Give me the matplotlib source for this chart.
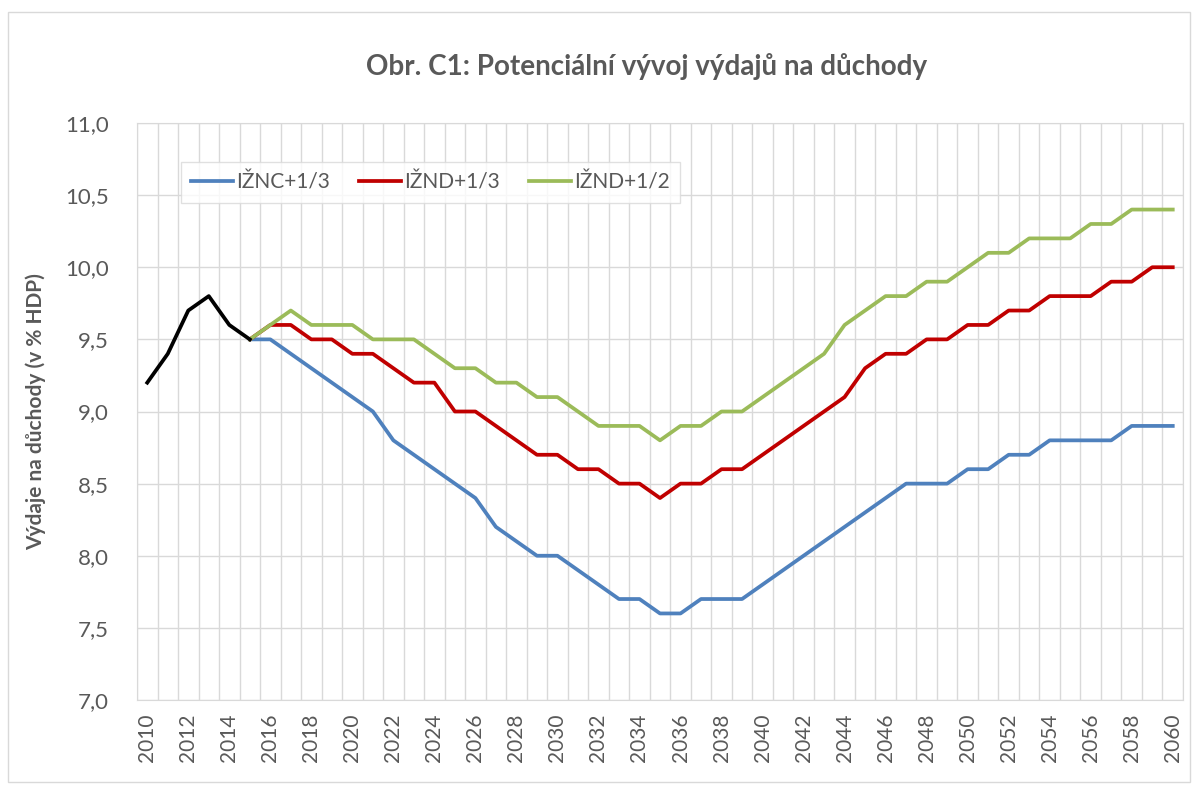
import matplotlib
matplotlib.use('Agg')
import matplotlib.pyplot as plt
from matplotlib.patches import Rectangle
from matplotlib.ticker import FuncFormatter, MultipleLocator

plt.rcParams['font.family'] = ['Lato', 'DejaVu Sans']

years_hist = [2010, 2011, 2012, 2013, 2014, 2015]
hist = [9.2, 9.4, 9.7, 9.8, 9.6, 9.5]

years = list(range(2015, 2061))
iznc_13 = [9.5, 9.5, 9.4, 9.3, 9.2, 9.1, 9.0, 8.8, 8.7, 8.6,
           8.5, 8.4, 8.2, 8.1, 8.0, 8.0, 7.9, 7.8, 7.7, 7.7,
           7.6, 7.6, 7.7, 7.7, 7.7, 7.8, 7.9, 8.0, 8.1, 8.2,
           8.3, 8.4, 8.5, 8.5, 8.5, 8.6, 8.6, 8.7, 8.7, 8.8,
           8.8, 8.8, 8.8, 8.9, 8.9, 8.9]
iznd_13 = [9.5, 9.6, 9.6, 9.5, 9.5, 9.4, 9.4, 9.3, 9.2, 9.2,
           9.0, 9.0, 8.9, 8.8, 8.7, 8.7, 8.6, 8.6, 8.5, 8.5,
           8.4, 8.5, 8.5, 8.6, 8.6, 8.7, 8.8, 8.9, 9.0, 9.1,
           9.3, 9.4, 9.4, 9.5, 9.5, 9.6, 9.6, 9.7, 9.7, 9.8,
           9.8, 9.8, 9.9, 9.9, 10.0, 10.0]
iznd_12 = [9.5, 9.6, 9.7, 9.6, 9.6, 9.6, 9.5, 9.5, 9.5, 9.4,
           9.3, 9.3, 9.2, 9.2, 9.1, 9.1, 9.0, 8.9, 8.9, 8.9,
           8.8, 8.9, 8.9, 9.0, 9.0, 9.1, 9.2, 9.3, 9.4, 9.6,
           9.7, 9.8, 9.8, 9.9, 9.9, 10.0, 10.1, 10.1, 10.2, 10.2,
           10.2, 10.3, 10.3, 10.4, 10.4, 10.4]

gray = '#595959'
grid = '#D9D9D9'

fig = plt.figure(figsize=(11.98, 7.86), dpi=100)
ax = fig.add_axes([137 / 1198, 1 - 700 / 786, (1183 - 137) / 1198, (700 - 123) / 786])

# outer chart border
fig.patches.append(Rectangle((8 / 1198, 4 / 786), 1182 / 1198, 770 / 786,
                             transform=fig.transFigure, fill=False,
                             edgecolor=grid, linewidth=1))

ax.plot(years, iznc_13, color='#4F81BD', lw=2.7, label='IŽNC+1/3', solid_joinstyle='round')
ax.plot(years, iznd_13, color='#C00000', lw=2.7, label='IŽND+1/3', solid_joinstyle='round')
ax.plot(years, iznd_12, color='#9BBB59', lw=2.7, label='IŽND+1/2', solid_joinstyle='round')
ax.plot(years_hist, hist, color='black', lw=2.7, solid_joinstyle='round')

ax.set_xlim(2009.5, 2060.5)
ax.set_ylim(7.0, 11.0)
ax.set_xticks(range(2010, 2061, 2))
ax.set_xticks([y + 0.5 for y in range(2009, 2061)], minor=True)
ax.yaxis.set_major_locator(MultipleLocator(0.5))
ax.yaxis.set_major_formatter(FuncFormatter(lambda v, p: f'{v:.1f}'.replace('.', ',')))

ax.grid(axis='y', which='major', color=grid, lw=1)
ax.grid(axis='x', which='minor', color=grid, lw=1)
ax.set_axisbelow(True)
for s in ax.spines.values():
    s.set_color(grid)

ax.tick_params(axis='x', which='both', length=0, labelrotation=90, labelsize=15,
               labelcolor=gray, pad=10)
ax.tick_params(axis='y', length=0, labelsize=16, labelcolor=gray, pad=20)

ax.set_ylabel('Výdaje na důchody (v % HDP)', fontsize=15, fontweight='bold',
              color=gray, labelpad=14)
fig.text(647 / 1198, 1 - 66 / 786, 'Obr. C1: Potenciální vývoj výdajů na důchody',
         ha='center', va='center', fontsize=20, fontweight='bold', color=gray)

leg = ax.legend(loc='upper left', bbox_to_anchor=(181 / 1198, 1 - 162 / 786),
                bbox_transform=fig.transFigure, ncol=3, fontsize=15,
                frameon=True, fancybox=False, edgecolor=grid, handlelength=2.0,
                handletextpad=0.15, columnspacing=1.4, borderpad=0.5,
                borderaxespad=0)
leg.get_frame().set_linewidth(1)
for t in leg.get_texts():
    t.set_color(gray)

fig.savefig('out.png', dpi=100)
